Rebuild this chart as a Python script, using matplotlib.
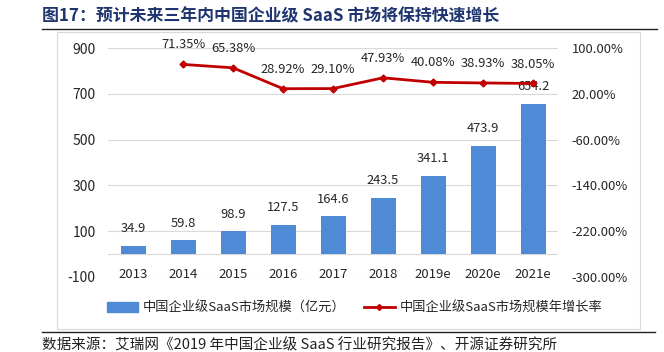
import matplotlib.pyplot as plt
from matplotlib.patches import Rectangle
from matplotlib.lines import Line2D

plt.rcParams['font.family'] = ['Noto Sans CJK SC', 'DejaVu Sans']

years = ['2013', '2014', '2015', '2016', '2017', '2018', '2019e', '2020e', '2021e']
market = [34.9, 59.8, 98.9, 127.5, 164.6, 243.5, 341.1, 473.9, 654.2]
growth = [None, 71.35, 65.38, 28.92, 29.10, 47.93, 40.08, 38.93, 38.05]
left_ticks = [-100, 100, 300, 500, 700, 900]
right_ticks = [-300, -220, -140, -60, 20, 100]

bar_color = '#4F8AD6'
line_color = '#C00000'
grid_color = '#D9D9D9'
text_color = '#262626'

fig = plt.figure(figsize=(6.64, 3.52), dpi=100)
ax = fig.add_axes([108 / 664, 1 - 277 / 352, 450 / 664, 229 / 352])
ax2 = ax.twinx()

x = list(range(len(years)))
ax.bar(x, market, width=0.5, color=bar_color, zorder=2)
for xi, v in zip(x, market):
    ax.annotate(f'{v:.1f}', (xi, v), xytext=(0, 12.5), textcoords='offset points',
                ha='center', va='center', fontsize=9.3, color=text_color)
for xi, yr in zip(x, years):
    ax.annotate(yr, (xi, 0), xytext=(0, -15), textcoords='offset points',
                ha='center', va='center', fontsize=9.5, color=text_color)

ax.set_xlim(-0.5, len(years) - 0.5)
ax.set_ylim(-100, 900)
ax.set_yticks(left_ticks)
ax.set_yticklabels([str(t) for t in left_ticks])
for t in left_ticks:
    ax.axhline(t, color=grid_color, lw=0.8, zorder=0)
ax.axhline(0, color=grid_color, lw=0.8, zorder=1)
ax.set_xticks([])
ax.tick_params(axis='y', length=0, pad=9, labelsize=10, colors=text_color)

gx = [xi for xi, g in zip(x, growth) if g is not None]
gy = [g for g in growth if g is not None]
ax2.plot(gx, gy, color=line_color, lw=2, marker='D', markersize=3.5, zorder=3)
for xi, g in zip(gx, gy):
    ax2.annotate(f'{g:.2f}%', (xi, g), xytext=(0, 14), textcoords='offset points',
                 ha='center', va='center', fontsize=9.3, color=text_color)
ax2.set_ylim(-300, 100)
ax2.set_yticks(right_ticks)
ax2.set_yticklabels([f'{t:.2f}%' for t in right_ticks])
ax2.tick_params(axis='y', length=0, pad=10, labelsize=9.3, colors=text_color)

for a in (ax, ax2):
    for s in a.spines.values():
        s.set_visible(False)

leg_handles = [Rectangle((0, 0), 1, 1, color=bar_color),
               Line2D([0], [0], color=line_color, lw=2, marker='D', markersize=3)]
fig.legend(leg_handles, ['中国企业级SaaS市场规模（亿元）', '中国企业级SaaS市场规模年增长率'],
           loc='center', bbox_to_anchor=(355 / 664, 1 - 308 / 352), ncol=2, frameon=False,
           fontsize=9.5, handlelength=2.3, handletextpad=0.4, columnspacing=1.4,
           labelcolor=text_color)

# outer frame and rules
fig.patches.append(Rectangle((57 / 664, 1 - 329 / 352), 583 / 664, 297 / 352,
                             transform=fig.transFigure, fill=False, ec='#D9D9D9', lw=0.8))
fig.add_artist(Line2D([42 / 664, 657 / 664], [1 - 29 / 352] * 2, color='#222222', lw=1.0))
fig.add_artist(Line2D([42 / 664, 655 / 664], [1 - 332 / 352] * 2, color='#222222', lw=1.0))

fig.text(42 / 664, 1 - 16 / 352, '图17：预计未来三年内中国企业级 SaaS 市场将保持快速增长',
         fontsize=12.2, fontweight='bold', color='#1F3570', va='center', ha='left')
fig.text(42 / 664, 1 - 345 / 352, '数据来源：艾瑞网《2019 年中国企业级 SaaS 行业研究报告》、开源证券研究所',
         fontsize=10.5, color='#222222', va='center', ha='left')

fig.savefig('out.png', dpi=100)
